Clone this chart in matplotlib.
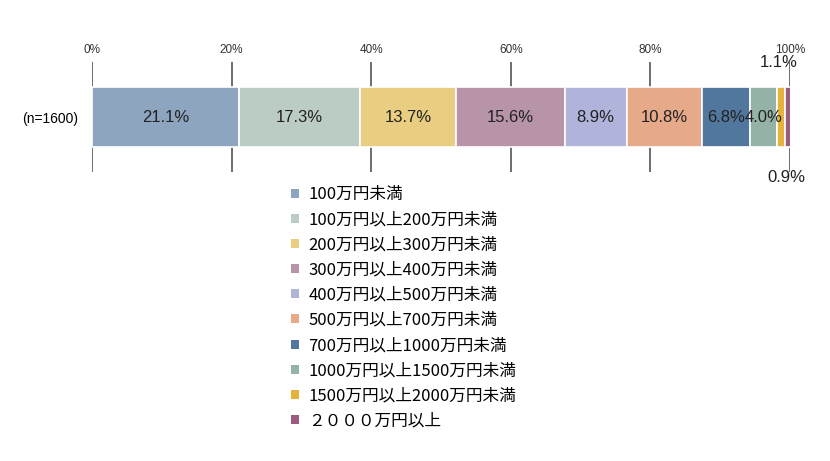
import matplotlib.pyplot as plt
from matplotlib.patches import Patch

plt.rcParams['font.family'] = ['Liberation Sans', 'Noto Sans CJK JP', 'DejaVu Sans']

categories = ['100万円未満', '100万円以上200万円未満', '200万円以上300万円未満',
              '300万円以上400万円未満', '400万円以上500万円未満', '500万円以上700万円未満',
              '700万円以上1000万円未満', '1000万円以上1500万円未満', '1500万円以上2000万円未満',
              '２０００万円以上']
values = [21.1, 17.3, 13.7, 15.6, 8.9, 10.8, 6.8, 4.0, 1.1, 0.9]
colors = ['#8ea5c0', '#bbccc4', '#e9cd80', '#b894a8', '#b0b3da',
          '#e6aa8a', '#52779f', '#94b2a6', '#e3b33c', '#9b5a7e']
row_label = '(n=1600)'
xticks = [0, 20, 40, 60, 80, 100]

fig = plt.figure(figsize=(8.3, 4.61), dpi=100)
ax = fig.add_axes([92 / 830, 1 - 172 / 461, 698 / 830, 110 / 461])

bar_h = 60 / 110
left = 0
for v, c in zip(values, colors):
    ax.barh(0.5, v, left=left, height=bar_h, color=c, edgecolor='white', linewidth=1.2, zorder=3)
    left += v

# reference lines above and below the bar
ax.vlines(xticks, 0.5 + bar_h / 2, 1, color='#555555', linewidth=1.2, zorder=2)
ax.vlines(xticks, 0, 0.5 - bar_h / 2, color='#555555', linewidth=1.2, zorder=2)

# value labels
left = 0
for i, v in enumerate(values):
    cx = left + v / 2
    if i == 8:
        ax.text(cx - 0.3, 1.0, f'{v:.1f}%', ha='center', va='center', fontsize=12, color='#222222', zorder=4)
    elif i == 9:
        ax.text(cx - 0.2, -0.05, f'{v:.1f}%', ha='center', va='center', fontsize=12, color='#222222', zorder=4)
    else:
        ax.text(cx, 0.5, f'{v:.1f}%', ha='center', va='center', fontsize=12, color='#222222', zorder=4)
    left += v

ax.set_xlim(0, 100)
ax.set_ylim(0, 1)
ax.xaxis.tick_top()
ax.set_xticks(xticks, [f'{t}%' for t in xticks], fontsize=8.5, color='#333333')
ax.set_yticks([0.5], [row_label], fontsize=10)
ax.tick_params(length=0)
ax.tick_params(axis='x', pad=4)
ax.tick_params(axis='y', pad=10)
for s in ax.spines.values():
    s.set_visible(False)

handles = [Patch(facecolor=c, edgecolor='none') for c in colors]
fig.legend(handles, categories, loc='upper left', bbox_to_anchor=(276 / 830, 1 - 171 / 461),
           frameon=False, handlelength=0.45, handleheight=0.45, handletextpad=0.6,
           labelspacing=0.49, prop={'family': ['Noto Sans CJK JP', 'DejaVu Sans'], 'size': 12})

fig.savefig('out.png', dpi=100)
